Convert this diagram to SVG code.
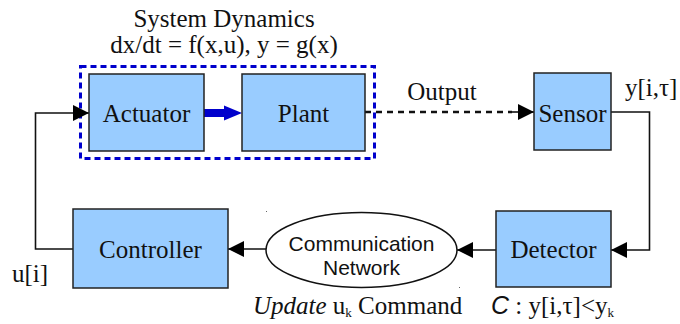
<svg xmlns="http://www.w3.org/2000/svg" width="680" height="324" viewBox="0 0 680 324">
<defs>
<style>
.box{fill:#99ccff;stroke:#222;stroke-width:1.5}
.lbl{font-family:"Liberation Serif",serif;font-size:25px;fill:#111;text-anchor:middle}
.ser{font-family:"Liberation Serif",serif;font-size:25px;fill:#111}
.sans{font-family:"Liberation Sans",Arial,sans-serif;fill:#111}
.wire{fill:none;stroke:#111;stroke-width:1.6}
</style>
<marker id="ah" viewBox="0 0 10 10" refX="10" refY="5" markerWidth="22" markerHeight="16" markerUnits="userSpaceOnUse" orient="auto">
<path d="M0,0 L10,5 L0,10 z" fill="#000"/>
</marker>
</defs>
<g id="title">
<text class="ser" x="224" y="27" text-anchor="middle">System Dynamics</text>
<text class="ser" x="224" y="53" text-anchor="middle">dx/dt = f(x,u), y = g(x)</text>
</g>
<g id="system-dynamics">
<rect x="80.5" y="66.5" width="294" height="92" fill="none" stroke="#0000cc" stroke-width="3" stroke-dasharray="6,4"/>
</g>
<g id="connectors">
<path class="wire" d="M73,249 H35.5 V113 H89" marker-end="url(#ah)"/>
<path d="M204,113 H226" stroke="#0000cc" stroke-width="8" fill="none"/>
<path d="M224,105.5 L242,113 L224,120.5 z" fill="#0000cc"/>
<path d="M365,112 H512" stroke="#111" stroke-width="2.6" stroke-dasharray="6,5" fill="none"/>
<path d="M512,112 H534" class="wire" marker-end="url(#ah)"/>
<path class="wire" d="M611,112 H649.5 V250 H611" marker-end="url(#ah)"/>
<path class="wire" d="M496,250 H457" marker-end="url(#ah)"/>
<path class="wire" d="M266,249 H228" marker-end="url(#ah)"/>
</g>
<g id="actuator">
<rect class="box" x="89" y="74" width="115" height="77"/>
<text class="lbl" x="146.5" y="122">Actuator</text>
</g>
<g id="plant">
<rect class="box" x="242" y="74" width="123" height="77"/>
<text class="lbl" x="303.5" y="122">Plant</text>
</g>
<g id="sensor">
<rect class="box" x="534" y="73" width="77" height="77"/>
<text class="lbl" x="572.5" y="122">Sensor</text>
</g>
<g id="detector">
<rect class="box" x="496" y="211" width="115" height="76"/>
<text class="lbl" x="553.5" y="258">Detector</text>
</g>
<g id="controller">
<rect class="box" x="73" y="209" width="155" height="79"/>
<text class="lbl" x="150.5" y="258">Controller</text>
</g>
<g id="network">
<ellipse cx="361.5" cy="250" rx="95.5" ry="37.5" fill="#fff" stroke="#111" stroke-width="1.5"/>
<text class="sans" x="361.5" y="251" text-anchor="middle" font-size="21">Communication</text>
<text class="sans" x="361.5" y="275" text-anchor="middle" font-size="21">Network</text>
<rect x="266" y="211" width="1" height="1" fill="#666"/>
<rect x="459" y="287" width="1" height="1" fill="#666"/>
</g>
<g id="labels">
<text class="ser" x="442" y="100" text-anchor="middle">Output</text>
<text class="ser" x="625" y="96">y[i,τ]</text>
<text class="ser" x="12" y="282">u[i]</text>
<text class="ser" x="253" y="314"><tspan font-style="italic">Update</tspan> u<tspan font-size="13" dy="3">k</tspan><tspan dy="-3"> Command</tspan></text>
<text class="ser" x="491" y="314"><tspan font-family="Liberation Sans,Arial,sans-serif" font-style="italic">C</tspan> : y[i,τ]&lt;y<tspan font-size="13" dy="3">k</tspan></text>
</g>
</svg>
